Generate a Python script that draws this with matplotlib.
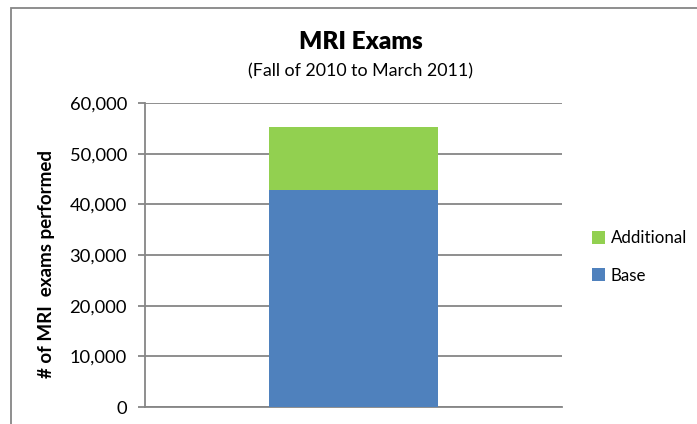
import matplotlib
matplotlib.use("Agg")
import matplotlib.pyplot as plt
from matplotlib.patches import Rectangle
from matplotlib.ticker import FuncFormatter

categories = [""]
base = [42800]
additional = [12450]
series_names = ["Base", "Additional"]
colors = ["#4F81BD", "#92D050"]
yticks = [0, 10000, 20000, 30000, 40000, 50000, 60000]

plt.rcParams['font.family'] = ['Lato', 'DejaVu Sans']

W, H = 697, 424
fig = plt.figure(figsize=(W / 100, H / 100), dpi=100)
ax = fig.add_axes([145 / W, 1 - 407 / H, (562 - 145) / W, (407 - 103) / H])

grid_c = "#868686"
x = list(range(len(categories)))
b1 = ax.bar(x, base, width=0.403, color=colors[0], label=series_names[0], zorder=3)
b2 = ax.bar(x, additional, bottom=base, width=0.403, color=colors[1],
            label=series_names[1], zorder=3)

ax.set_xlim(-0.5, 0.5)
ax.set_ylim(0, 60000)
ax.set_yticks(yticks)
ax.yaxis.set_major_formatter(FuncFormatter(lambda v, p: f"{int(v):,}"))
ax.set_xticks([])
ax.grid(axis="y", color=grid_c, linewidth=1.3, zorder=0)
for s in ["top", "right"]:
    ax.spines[s].set_visible(False)
ax.spines["left"].set_color(grid_c)
ax.spines["left"].set_linewidth(1.3)
ax.spines["bottom"].set_color(grid_c)
ax.spines["bottom"].set_linewidth(1.3)
ax.tick_params(axis="y", direction="out", length=5, width=1.3, color=grid_c,
               labelsize=13.2, pad=8, labelcolor="black")

fig.text(47 / W, 1 - 264 / H, "# of MRI  exams performed", rotation=90,
         ha="center", va="center", fontsize=13.5, fontweight="bold")

fig.text(361 / W, 1 - 42 / H, "MRI Exams", ha="center", va="center",
         fontsize=17.5, fontweight="heavy")
fig.text(360 / W, 1 - 71 / H, "(Fall of 2010 to March 2011)", ha="center",
         va="center", fontsize=12.8)

handles = [b2, b1]
leg = fig.legend(handles, [series_names[1], series_names[0]], loc="center left",
                 bbox_to_anchor=(580 / W, 1 - 257 / H), frameon=False,
                 fontsize=12.2, handlelength=0.75, handleheight=0.75,
                 handletextpad=0.35, labelspacing=1.25, borderpad=0.2)

border = Rectangle((11 / W, -0.1), 1.2, 1 - 8 / H + 0.1, transform=fig.transFigure,
                   fill=False, edgecolor=grid_c, linewidth=1.3)
fig.patches.append(border)

fig.savefig("out.png", dpi=100)
